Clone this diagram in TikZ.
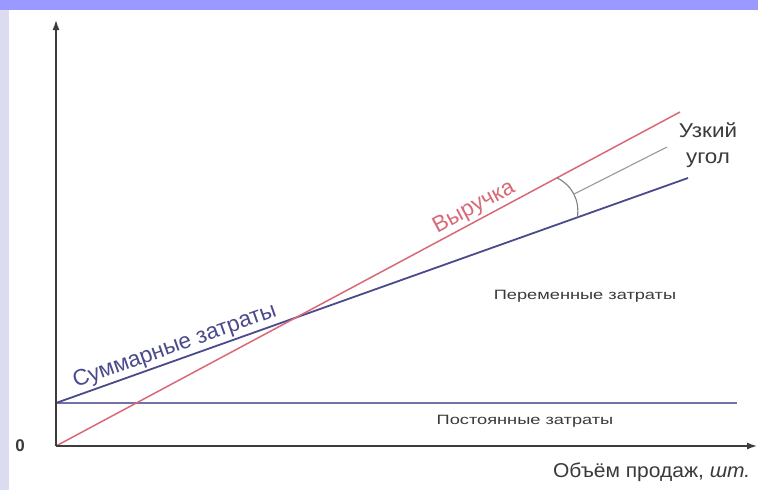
\documentclass[tikz,border=0pt]{standalone}
\usepackage{fontspec}
\setmainfont{Liberation Sans}
\usetikzlibrary{arrows.meta,calc,positioning}
\definecolor{topbar}{HTML}{9999FF}
\definecolor{sidebar}{HTML}{DCDCF0}
\definecolor{revred}{HTML}{D86A78}
\definecolor{costblue}{HTML}{4A4A8C}
\definecolor{fixblue}{HTML}{7272A8}
\definecolor{axisgray}{HTML}{3C3C3C}
\definecolor{txtgray}{HTML}{3A3A3A}
\tikzset{
	every node/.style={
		font=\fontsize{20}{26}\selectfont,
		text=txtgray
	},
	small/.style={
		font=\fontsize{13.5}{15}\selectfont,
		xscale=1.35
	},
	big/.style={
		font=\fontsize{22.5}{24}\selectfont
	},
	axis/.style={-{Latex[length=10pt,width=7pt]}, line width=1.4pt, draw=axisgray},
	revenue/.style={line width=1.5pt, draw=revred},
	total/.style={line width=1.8pt, draw=costblue},
	fixed/.style={line width=2.6pt, draw=fixblue},
	thin gray/.style={line width=1.1pt, draw=gray},
}

\begin{document}
\begin{tikzpicture}[x=1pt,y=-1pt]
		
		\useasboundingbox (0,0) rectangle (758,490);
		\fill[white] (0,0) rectangle (758,490);
		\fill[topbar] (0,0) rectangle (758,10);
		\fill[sidebar] (0,10) rectangle (9,490);
		
		\coordinate (O) at (56,446);
		\coordinate (ytop) at (56,20);
		\coordinate (xend) at (757,446);
		\coordinate (rev) at (680,112);
		\coordinate (tc0) at (56,403);
		\coordinate (tc1) at (688,178);
		\coordinate (fc1) at (737,403);
		\coordinate (arc0) at ($(O)!0.803!(rev)$);
		\coordinate (arc1) at ($(tc0)!0.825!(tc1)$);
		\coordinate (ptr) at (667,147);
		
		\draw[fixed] (tc0) -- (fc1);
		\draw[total] (tc0) -- node[big, sloped, above, pos=0.195, text=costblue, inner sep=2pt] (tclbl) {Суммарные затраты} (tc1);
		\draw[revenue] (O) -- node[big, sloped, above, pos=0.68, text=revred, inner sep=2pt] (revlbl) {Выручка} (rev);
		\draw[axis] (O) -- (ytop);
		\draw[axis] (O) -- (xend);
		
		\draw[thin gray] (arc0) to[bend left=35] coordinate[midway] (mid) (arc1);
		\draw[thin gray, draw=gray!80] (mid) -- (ptr);
		
		\node[font=\fontsize{17}{18}\selectfont\bfseries] (zero) at (20,446) {0};
		\node[anchor=east, xscale=1.05] (xlbl) at (754,472) {Объём продаж, \textit{шт.}};
		\node[small] (fclbl) at (525,421) {Постоянные затраты};
		\node[small] (vclbl) at (585,296) {Переменные затраты};
		\node[align=center, xscale=1.12] (angle) at (708,145) {Узкий\\угол};
		
		\end{tikzpicture}
\end{document}
